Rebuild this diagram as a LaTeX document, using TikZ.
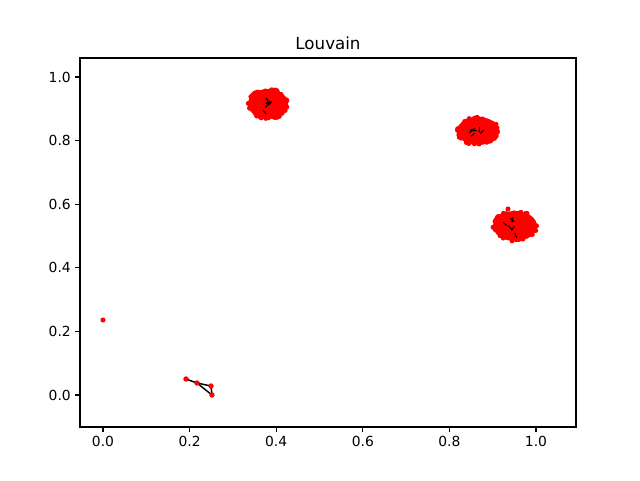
\documentclass[tikz,border=0pt]{standalone}
\usepackage{fontspec}
\setmainfont{DejaVu Sans}
\begin{document}
\begin{tikzpicture}[x=0.75pt,y=-0.75pt,
  axis/.style={line width=0.8pt,black},
  tick/.style={line width=0.8pt,black},
  ticklab/.style={font=\fontsize{10.4}{12}\selectfont,inner sep=0pt},
  pt/.style={circle,fill=red,inner sep=0pt,minimum size=3.8pt},
  edge/.style={black,line width=1.1pt}]
\useasboundingbox (0,0) rectangle (640,480);
\fill[white] (0,0) rectangle (640,480);
% title
\node[font=\fontsize{12.5}{14}\selectfont] (title) at (328,43) {Louvain};
% clusters
\pgfmathsetseed{7}
\foreach \cx/\cy/\rx/\ry in {268/104/20/15, 478/131/21/14, 515/226/22/15}{
  \fill[red] (\cx,\cy) ellipse [x radius=\rx*0.75pt, y radius=\ry*0.75pt];
  \foreach \i in {1,...,150}{
    \pgfmathsetmacro\a{360*rnd}
    \pgfmathsetmacro\r{sqrt(rnd)}
    \fill[red] ({\cx+\rx*\r*cos(\a)},{\cy+\ry*\r*sin(\a)}) circle[radius=1.9pt];
  }
  \foreach \i in {1,...,6}{
    \pgfmathsetmacro\a{360*rnd}
    \pgfmathsetmacro\r{0.6*rnd}
    \pgfmathsetmacro\b{360*rnd}
    \draw[black,line width=0.8pt] ({\cx+\rx*\r*cos(\a)},{\cy+\ry*\r*sin(\a)}) -- ++({5*cos(\b)},{5*sin(\b)});
  }
}
\node[pt] (p9) at (508,209) {};
\draw[black,line width=1pt] (506,212) -- (p9);
% isolated point
\node[pt] (iso) at (103,320) {};
% triangle component
\node[pt] (t1) at (186,379) {};
\node[pt] (t2) at (197,383) {};
\node[pt] (t3) at (211,386) {};
\node[pt] (t4) at (212,395) {};
\begin{scope}[on background layer/.try]
\end{scope}
\draw[edge] (t1.center) -- (t2.center);
\draw[edge] (t2.center) -- (t3.center);
\draw[edge] (t2.center) -- (t4.center);
\draw[edge] (t3.center) -- (t4.center);
\node[pt] at (t1) {};
\node[pt] at (t2) {};
\node[pt] at (t3) {};
\node[pt] at (t4) {};
% axes box
\draw[axis] (80,58) rectangle (576,427);
% x ticks
\foreach \v/\l in {0/0.0,1/0.2,2/0.4,3/0.6,4/0.8,5/1.0}{
  \draw[tick] ({103+86.6*\v},427) -- ({103+86.6*\v},432);
  \node[ticklab,anchor=north] at ({103+86.6*\v},436) {\l};
}
% y ticks
\foreach \v/\l in {0/0.0,1/0.2,2/0.4,3/0.6,4/0.8,5/1.0}{
  \draw[tick] (80,{395-63.6*\v}) -- (75,{395-63.6*\v});
  \node[ticklab,anchor=east] at (71,{395-63.6*\v}) {\l};
}
\end{tikzpicture}
\end{document}
